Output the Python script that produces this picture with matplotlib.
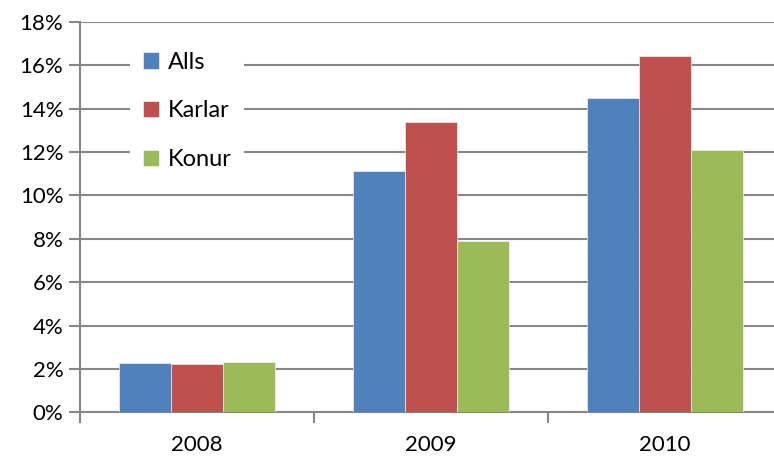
import numpy as np
import matplotlib
matplotlib.use('Agg')
import matplotlib.pyplot as plt
from matplotlib.ticker import FuncFormatter, FixedLocator

plt.rcParams['font.family'] = ['Lato', 'DejaVu Sans']

# ── Données ──
annees = ['2008', '2009', '2010']
alls = [2.26, 11.12, 14.50]
karlar = [2.21, 13.38, 16.42]
konur = [2.32, 7.89, 12.09]
series = ['Alls', 'Karlar', 'Konur']
couleurs = ['#4F81BD', '#C0504D', '#9BBB59']

fig = plt.figure(figsize=(7.74, 4.57), dpi=100)
ax = fig.add_axes([80/774, 1 - 412.3/457, 702/774, (412.3 - 22)/457])

x = np.arange(len(annees))
w = 1 / 4.5
for i, (vals, nom, c) in enumerate(zip([alls, karlar, konur], series, couleurs)):
    ax.bar(x + (i - 1) * w, vals, width=w, color=c, label=nom,
           edgecolor='white', linewidth=0.4, zorder=3)

ax.set_xlim(-0.5, 2.5)
ax.set_ylim(0, 18)
ax.set_yticks(np.arange(0, 19, 2))
ax.yaxis.set_major_formatter(FuncFormatter(lambda v, p: f"{v:.0f}%"))
ax.grid(axis='y', color='#878787', linewidth=1.5, zorder=0)

ax.set_xticks(x)
ax.set_xticklabels(annees)
ax.xaxis.set_minor_locator(FixedLocator([-0.5, 0.5, 1.5, 2.5]))
ax.tick_params(axis='x', which='major', length=0, pad=16, labelsize=16)
ax.tick_params(axis='x', which='minor', length=8, width=1.5, color='#878787')
ax.tick_params(axis='y', length=8, width=1.5, color='#878787', labelsize=16, pad=4)

for s in ['top', 'right']:
    ax.spines[s].set_visible(False)
for s in ['left', 'bottom']:
    ax.spines[s].set_color('#878787')
    ax.spines[s].set_linewidth(1.5)

leg = ax.legend(loc='upper left', bbox_to_anchor=(118/774, 1 - 27/457),
                bbox_transform=fig.transFigure, fontsize=17,
                frameon=True, fancybox=False, edgecolor='none', framealpha=1,
                handlelength=0.7, handleheight=0.7, handletextpad=0.35,
                labelspacing=1.17, borderpad=0.55)
leg.set_zorder(5)

plt.savefig('out.png', dpi=100)
